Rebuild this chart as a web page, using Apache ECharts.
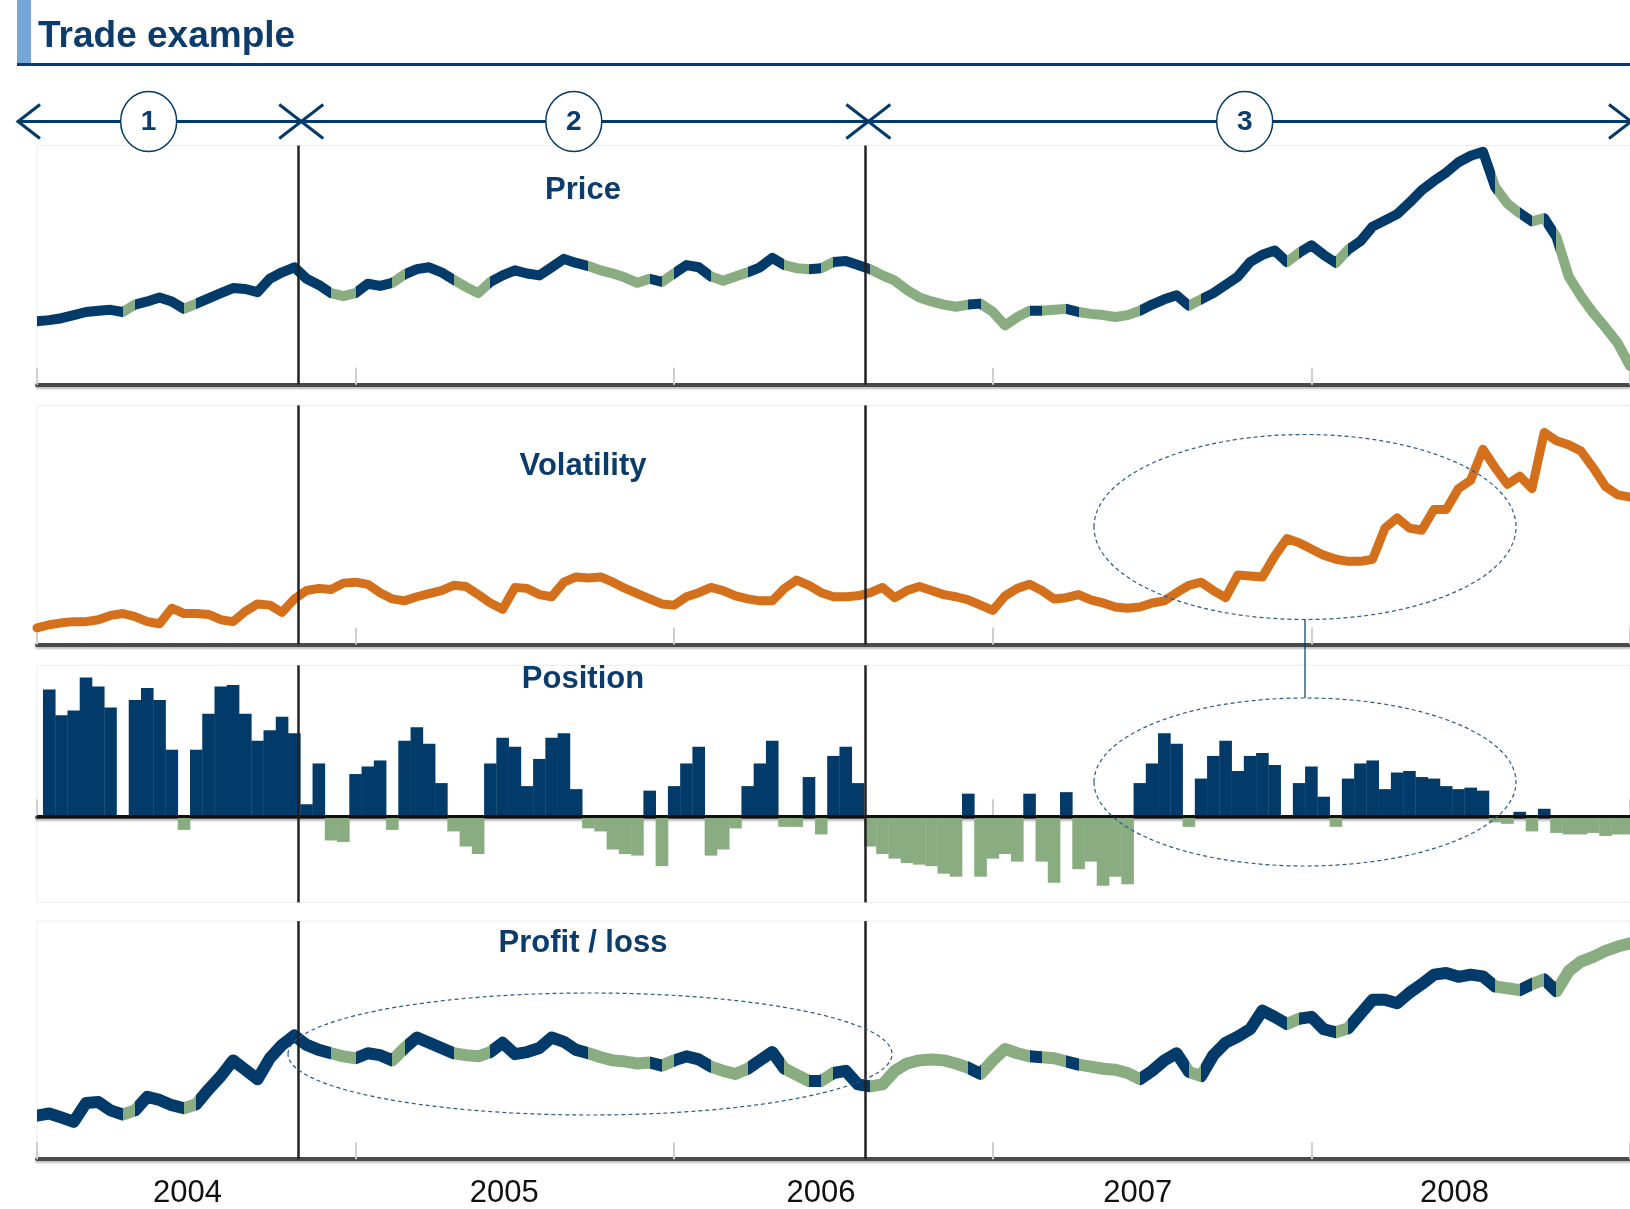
<!DOCTYPE html>
<html>
<head>
<meta charset="utf-8">
<script src="https://cdn.jsdelivr.net/npm/echarts@6/dist/echarts.min.js"></script>
<style>
html,body{margin:0;padding:0;background:#fff;}
#c{width:1630px;height:1209px;}
</style>
</head>
<body>
<div id="c"></div>
<script>
// ---------------- data ----------------
const START_YEAR = 2004;
const STEPS_PER_YEAR = 26;          // bi-weekly observations
const yearLabels = ['2004', '2005', '2006', '2007', '2008'];
const periodBreaks = [2004.82, 2006.60];
const periodLabels = ['1', '2', '3'];
const panelTitles = ['Price', 'Volatility', 'Position', 'Profit / loss'];

const price = [
 26.5, 27.0, 27.8, 29.1, 30.4, 30.9, 31.3, 30.4, 33.5, 34.8,
 36.5, 34.8, 31.7, 33.9, 36.1, 38.3, 40.4, 40.0, 38.7, 44.3,
 47.0, 49.1, 44.3, 41.7, 38.3, 37.0, 38.3, 42.2, 41.3, 42.6,
 46.1, 48.3, 49.1, 47.0, 43.9, 40.9, 38.3, 43.0, 45.7, 47.8,
 46.5, 45.7, 49.1, 52.6, 50.9, 49.6, 47.8, 46.5, 44.8, 42.6,
 44.3, 43.0, 46.5, 50.0, 49.1, 45.2, 43.5, 45.2, 47.0, 49.1,
 53.0, 50.0, 48.7, 48.3, 48.7, 51.3, 51.7, 50.0, 48.3, 45.7,
 43.5, 39.6, 36.5, 34.8, 33.5, 32.6, 33.5, 33.9, 30.4, 24.8,
 28.3, 30.9, 30.9, 31.3, 31.7, 30.4, 29.6, 29.1, 28.3, 29.1,
 30.9, 33.5, 35.7, 37.4, 33.0, 35.7, 38.3, 41.7, 45.2, 51.3,
 54.3, 56.1, 51.3, 55.2, 58.3, 54.3, 50.9, 56.5, 60.0, 66.1,
 68.7, 71.3, 76.1, 81.3, 85.2, 88.7, 93.0, 95.7, 97.4, 82.6,
 75.7, 71.7, 68.3, 69.6, 61.7, 45.2, 37.0, 30.0, 23.9, 17.4,
 7.8
];

const volatility = [
 7.0, 8.3, 9.1, 9.6, 9.6, 10.4, 12.2, 13.0, 11.7, 9.6,
 8.7, 15.2, 13.0, 13.0, 12.6, 10.4, 9.6, 13.9, 17.0, 16.5,
 13.5, 19.1, 22.6, 23.5, 23.0, 25.7, 26.1, 25.2, 21.7, 19.1,
 18.3, 20.0, 21.3, 22.6, 24.8, 24.3, 20.9, 17.4, 14.8, 23.9,
 23.5, 20.9, 20.0, 26.1, 28.3, 27.8, 28.3, 26.1, 23.5, 21.3,
 19.1, 17.0, 16.5, 20.0, 21.7, 23.9, 22.6, 20.4, 19.1, 18.3,
 18.3, 23.5, 27.0, 24.8, 21.7, 20.0, 20.0, 20.4, 21.7, 23.9,
 19.6, 22.6, 24.3, 22.6, 20.9, 20.0, 18.7, 16.5, 14.3, 20.4,
 23.5, 25.2, 22.6, 19.1, 19.6, 20.9, 18.7, 17.4, 15.7, 15.2,
 15.7, 17.4, 18.3, 21.7, 24.8, 26.1, 22.6, 19.6, 29.1, 28.7,
 28.3, 37.0, 44.3, 42.6, 40.0, 37.4, 35.7, 34.8, 34.8, 35.7,
 48.7, 53.0, 48.7, 47.8, 56.5, 56.5, 65.2, 68.7, 81.7, 73.9,
 67.0, 70.4, 65.2, 88.7, 85.2, 83.5, 80.9, 73.9, 66.1, 62.6,
 61.7
];

// null = no position recorded yet (first observation)
const position = [
 null, 84, 67, 70, 92, 86, 72, 0, 77, 85,
 77, 44, -9, 44, 68, 86, 87, 68, 50, 57,
 66, 55, 8, 35, -16, -17, 28, 33, 37, -9,
 50, 59, 48, 22, -10, -20, -25, 35, 52, 46,
 20, 38, 52, 55, 18, -8, -10, -22, -25, -26,
 17, -33, 20, 35, 46, -26, -22, -8, 20, 35,
 50, -7, -7, 26, -12, 40, 46, 22, -20, -25,
 -28, -31, -32, -33, -38, -40, 15, -40, -28, -25,
 -30, 15, -30, -44, 16, -35, -30, -46, -40, -45,
 22, 35, 55, 48, -7, 25, 40, 50, 30, 40,
 42, 34, 0, 22, 33, 13, -7, 25, 35, 37,
 18, 29, 30, 26, 25, 20, 18, 19, 17, -4,
 -5, 3, -10, 5, -11, -12, -12, -11, -13, -12,
 -12
];

const profitLoss = [
 18.3, 19.2, 17.5, 15.7, 23.6, 24.0, 20.5, 18.8, 20.5, 26.2,
 24.9, 22.7, 21.4, 23.1, 29.3, 34.9, 41.5, 37.6, 33.6, 42.4,
 48.0, 52.0, 48.0, 45.9, 44.5, 43.2, 42.4, 44.5, 43.7, 41.5,
 46.7, 51.1, 48.9, 46.7, 44.5, 43.7, 43.2, 45.0, 48.9, 44.1,
 45.0, 46.7, 51.1, 49.3, 45.9, 44.5, 42.8, 41.5, 41.0, 40.2,
 40.6, 39.3, 41.5, 43.2, 41.9, 38.9, 37.1, 35.8, 38.0, 41.5,
 45.0, 38.0, 35.4, 32.8, 32.8, 36.2, 37.1, 31.4, 30.6, 31.4,
 37.1, 40.2, 41.5, 41.9, 41.5, 40.2, 38.4, 35.8, 41.5, 46.3,
 44.5, 43.2, 42.8, 42.4, 41.0, 39.7, 38.9, 38.0, 37.6, 36.2,
 33.6, 37.1, 41.5, 44.5, 36.7, 34.9, 43.7, 48.9, 51.5, 54.6,
 62.4, 59.8, 56.8, 59.0, 59.8, 54.6, 53.3, 55.0, 61.0, 67.0,
 67.0, 65.5, 69.9, 73.5, 77.5, 78.2, 76.6, 77.5, 76.8, 72.5,
 71.8, 71.0, 73.5, 75.5, 70.5, 79.0, 83.0, 85.0, 87.5, 89.3,
 90.7
];

// ---------------- styling ----------------
const NAVY = '#023a69';
const NAVY_T = '#0b3c6c';
const GREEN = '#89ad80';
const ORANGE = '#d4701c';
const FONT = '"Liberation Sans", Arial, Helvetica, sans-serif';

const xs = price.map((_, i) => START_YEAR + i / STEPS_PER_YEAR);
const pair = arr => arr.map((v, i) => [xs[i], v]);

// colour pieces for price / P&L lines: segment i->i+1 coloured by sign of the position held
const pieces = [];
for (let i = 0; i < position.length - 1; i++) {
  const held = position[i] == null ? position[i + 1] : position[i];
  const col = held > 0 ? NAVY : GREEN;
  const last = pieces[pieces.length - 1];
  if (last && last.color === col) last.lt = xs[i + 1];
  else pieces.push({ gte: xs[i], lt: xs[i + 1], color: col });
}
pieces[pieces.length - 1].lt = xs[xs.length - 1] + 1;

const PANELS = [
  { top: 145.5, height: 239.2, min: 0, max: 100 },
  { top: 405.4, height: 239.2, min: 0, max: 100 },
  { top: 665.3, height: 237.1, min: -57, max: 100 },
  { top: 921.1, height: 238.1, min: 0, max: 100 }
];

const breakLines = periodBreaks.map(v => ({ xAxis: v }));
const markLineBase = {
  silent: true, symbol: ['none', 'none'], animation: false,
  label: { show: false },
  lineStyle: { color: '#222', width: 2.5, type: 'solid' },
  emphasis: { disabled: true }
};

const grids = PANELS.map(p => ({
  left: 37, right: 0, top: p.top, height: p.height,
  show: true, borderColor: '#ececec', borderWidth: 1
}));
grids.push({ left: 29, right: 17, top: PANELS[3].top, height: PANELS[3].height });

const xAxes = PANELS.map((p, gi) => ({
  gridIndex: gi, type: 'value', min: 2004, max: 2009, interval: 1,
  axisLabel: { show: false }, splitLine: { show: false },
  axisLine: { show: true, lineStyle: { color: '#4a4a4a', width: 4,
    shadowColor: 'rgba(0,0,0,0.25)', shadowBlur: 2, shadowOffsetY: 2 } },
  axisTick: { show: true, inside: true, length: 17, lineStyle: { color: '#cfcfcf', width: 2 } }
}));
xAxes.push({
  gridIndex: 4, type: 'category', data: yearLabels, boundaryGap: true,
  axisLine: { show: false }, axisTick: { show: false }, splitLine: { show: false },
  axisLabel: { fontSize: 31, color: '#111', fontFamily: FONT, margin: 28 }
});

const yAxes = PANELS.map((p, gi) => ({
  gridIndex: gi, type: 'value', min: p.min, max: p.max, show: false
}));
yAxes.push({ gridIndex: 4, type: 'value', show: false });

const option = {
  animation: false,
  backgroundColor: '#ffffff',
  grid: grids,
  xAxis: xAxes,
  yAxis: yAxes,
  visualMap: [{
    type: 'piecewise', show: false, dimension: 0, seriesIndex: [0, 3], pieces: pieces
  }],
  series: [
    {
      name: 'Price', type: 'line', xAxisIndex: 0, yAxisIndex: 0,
      data: pair(price), showSymbol: false, z: 3,
      lineStyle: { width: 10, join: 'round', cap: 'round' },
      markLine: Object.assign({}, markLineBase, { data: breakLines })
    },
    {
      name: 'Volatility', type: 'line', xAxisIndex: 1, yAxisIndex: 1,
      data: pair(volatility), showSymbol: false, z: 3,
      itemStyle: { color: ORANGE },
      lineStyle: { width: 9, color: ORANGE, join: 'round', cap: 'round' },
      markLine: Object.assign({}, markLineBase, { data: breakLines })
    },
    {
      name: 'Position', type: 'bar', xAxisIndex: 2, yAxisIndex: 2,
      data: pair(position), barWidth: 12.6, z: 3,
      itemStyle: { color: p => (p.value[1] > 0 ? NAVY : GREEN) },
      markLine: Object.assign({}, markLineBase, {
        data: [{ yAxis: 0, lineStyle: { color: '#111', width: 3, type: 'solid' } }].concat(breakLines)
      })
    },
    {
      name: 'Profit / loss', type: 'line', xAxisIndex: 3, yAxisIndex: 3,
      data: pair(profitLoss), showSymbol: false, z: 3,
      lineStyle: { width: 12, join: 'round', cap: 'round' },
      markLine: Object.assign({}, markLineBase, { data: breakLines })
    }
  ]
};

const chart = echarts.init(document.getElementById('c'), null, { renderer: 'canvas' });
chart.setOption(option);

// ---------------- annotations ----------------
const bx = periodBreaks.map(v => chart.convertToPixel({ xAxisIndex: 0 }, v) + 3);
const AY = 121.5, AW = 22, AH = 17;
const g = [];
const Z = 100;
g.push({ type: 'rect', z: Z, shape: { x: 17, y: 0, width: 14, height: 63 }, style: { fill: '#78a7d7' } });
g.push({ type: 'line', z: Z, shape: { x1: 17, y1: 64.5, x2: 1630, y2: 64.5 }, style: { stroke: NAVY_T, lineWidth: 3 } });
g.push({ type: 'text', z: Z, x: 38, y: 37, style: {
  text: 'Trade example', font: 'bold 37px ' + FONT, fill: NAVY_T,
  textAlign: 'left', textVerticalAlign: 'middle', align: 'left', verticalAlign: 'middle' } });

// arrow row
const leftTip = 18, rightTip = 1631;
g.push({ type: 'line', z: Z, shape: { x1: leftTip, y1: AY, x2: rightTip, y2: AY }, style: { stroke: NAVY, lineWidth: 3 } });
const chev = (tip, dir) => ({ type: 'polyline', z: Z,
  shape: { points: [[tip + dir * AW, AY - AH], [tip, AY], [tip + dir * AW, AY + AH]] },
  style: { stroke: NAVY, lineWidth: 3, fill: 'none' } });
g.push(chev(leftTip, 1));
bx.forEach(b => { g.push(chev(b, -1)); g.push(chev(b, 1)); });
g.push(chev(rightTip, -1));
const segs = [leftTip].concat(bx).concat([rightTip]);
const circleShift = [-11, -11, -5];
periodLabels.forEach((lab, k) => {
  const cx = (segs[k] + segs[k + 1]) / 2 + circleShift[k];
  g.push({ type: 'ellipse', z: Z, shape: { cx: cx, cy: AY, rx: 28, ry: 30 },
    style: { fill: '#fff', stroke: NAVY, lineWidth: 1.5 } });
  g.push({ type: 'text', z: Z, x: cx, y: AY + 1, style: {
    text: lab, font: 'bold 28px ' + FONT, fill: NAVY_T,
    textAlign: 'center', textVerticalAlign: 'middle', align: 'center', verticalAlign: 'middle' } });
});

// panel titles
const titleY = [190, 466, 679, 943];
panelTitles.forEach((t, k) => {
  g.push({ type: 'text', z: Z, x: 583, y: titleY[k], style: {
    text: t, font: 'bold 31px ' + FONT, fill: NAVY_T,
    textAlign: 'center', textVerticalAlign: 'middle', align: 'center', verticalAlign: 'middle' } });
});

// dashed highlight ellipses + connector
const dash = { fill: 'none', stroke: '#2b5a8a', lineWidth: 1.2, lineDash: [4, 3] };
g.push({ type: 'ellipse', z: Z, shape: { cx: 1305, cy: 527, rx: 211, ry: 92.5 }, style: dash });
g.push({ type: 'ellipse', z: Z, shape: { cx: 1305, cy: 782, rx: 211, ry: 84 }, style: dash });
g.push({ type: 'ellipse', z: Z, shape: { cx: 590, cy: 1054, rx: 302, ry: 61 }, style: dash });
g.push({ type: 'line', z: Z, shape: { x1: 1305, y1: 619.5, x2: 1305, y2: 698 }, style: { stroke: NAVY, lineWidth: 1.2 } });

chart.setOption({ graphic: { elements: g } });
</script>
</body>
</html>
